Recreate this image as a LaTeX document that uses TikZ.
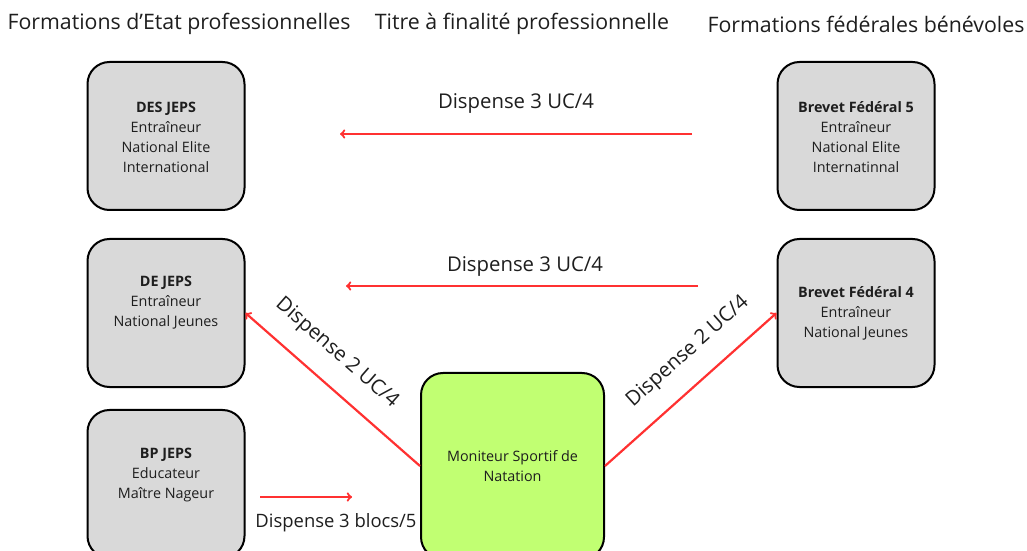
\documentclass[tikz,border=0pt]{standalone}
\usepackage{fontspec}
\setmainfont{Open Sans}
\usetikzlibrary{arrows}
\definecolor{gris}{HTML}{D9D9D9}
\definecolor{vert}{HTML}{C1FF72}
\definecolor{rouge}{HTML}{FF3131}
\definecolor{encre}{HTML}{1E1E1E}

\begin{document}
\begin{tikzpicture}[x=1bp,y=-1bp,
    boite/.style={draw,line width=2bp,rounded corners=22bp,fill=gris,
      minimum width=157bp,minimum height=148bp,inner sep=0pt},
    texte/.style={align=center,font=\fontsize{14.4}{20}\selectfont,text=encre},
    titre/.style={font=\fontsize{21.4}{24}\selectfont,text=encre},
    dispense/.style={font=\fontsize{20.4}{24}\selectfont,text=encre,inner sep=0pt},
    fleche/.style={->,rouge,line width=2.2bp}]
      \useasboundingbox (0,0) rectangle (1027,551);
      \clip (0,0) rectangle (1027,551);

      % titres des colonnes
      \node[titre] (col1) at (179,24) {Formations d’Etat professionnelles};
      \node[titre] (col2) at (522,24) {Titre à finalité professionnelle};
      \node[titre] (col3) at (866,24) {Formations fédérales bénévoles};

      % formations d'Etat
      \node[boite] (des) at (166,136) {};
      \node[texte] (t-des) at ([yshift=-1bp]des.center) {\textbf{DES JEPS}\\Entraîneur\\National Elite\\International};
      \node[boite] (de) at (166,313) {};
      \node[texte] (t-de) at ([yshift=10bp]de.center) {\textbf{DE JEPS}\\Entraîneur\\National Jeunes};
      \node[boite] (bp) at (166,484) {};
      \node[texte] (t-bp) at ([yshift=9bp]bp.center) {\textbf{BP JEPS}\\Educateur\\Maître Nageur};

      % formations federales
      \node[boite] (bf5) at (856,136) {};
      \node[texte] (t-bf5) at ([yshift=-1bp]bf5.center) {\textbf{Brevet Fédéral 5}\\Entraîneur\\National Elite\\Internatinnal};
      \node[boite] (bf4) at (856,313) {};
      \node[texte] (t-bf4) at (bf4) {\textbf{Brevet Fédéral 4}\\Entraîneur\\National Jeunes};

      % titre pro
      \node[boite,fill=vert,minimum width=183bp,minimum height=186bp] (mns) at (512.5,466) {};
      \node[texte] (t-mns) at (mns) {Moniteur Sportif de\\Natation};

      % dispenses
      \coordinate (h1a) at (692,134);
      \coordinate (h1b) at (340,134);
      \draw[fleche] (h1a) -- (h1b);
      \node[dispense] (d1) at (516,103) {Dispense 3 UC/4};

      \coordinate (h2a) at (698,286);
      \coordinate (h2b) at (346,286);
      \draw[fleche] (h2a) -- (h2b);
      \node[dispense] (d2) at (525,266) {Dispense 3 UC/4};

      \draw[fleche] (mns.west) -- node[dispense,sloped,pos=.59,above=19bp] (d3) {Dispense 2 UC/4} (de.east);
      \draw[fleche] (mns.east) -- node[dispense,sloped,pos=.6,above=19bp] (d4) {Dispense 2 UC/4} (bf4.west);

      \coordinate (h3a) at (260,497);
      \coordinate (h3b) at (352,497);
      \draw[fleche] (h3a) -- (h3b);
      \node[dispense,font=\fontsize{18.5}{22}\selectfont] (d5) at (336,523) {Dispense 3 blocs/5};

    \end{tikzpicture}
\end{document}
